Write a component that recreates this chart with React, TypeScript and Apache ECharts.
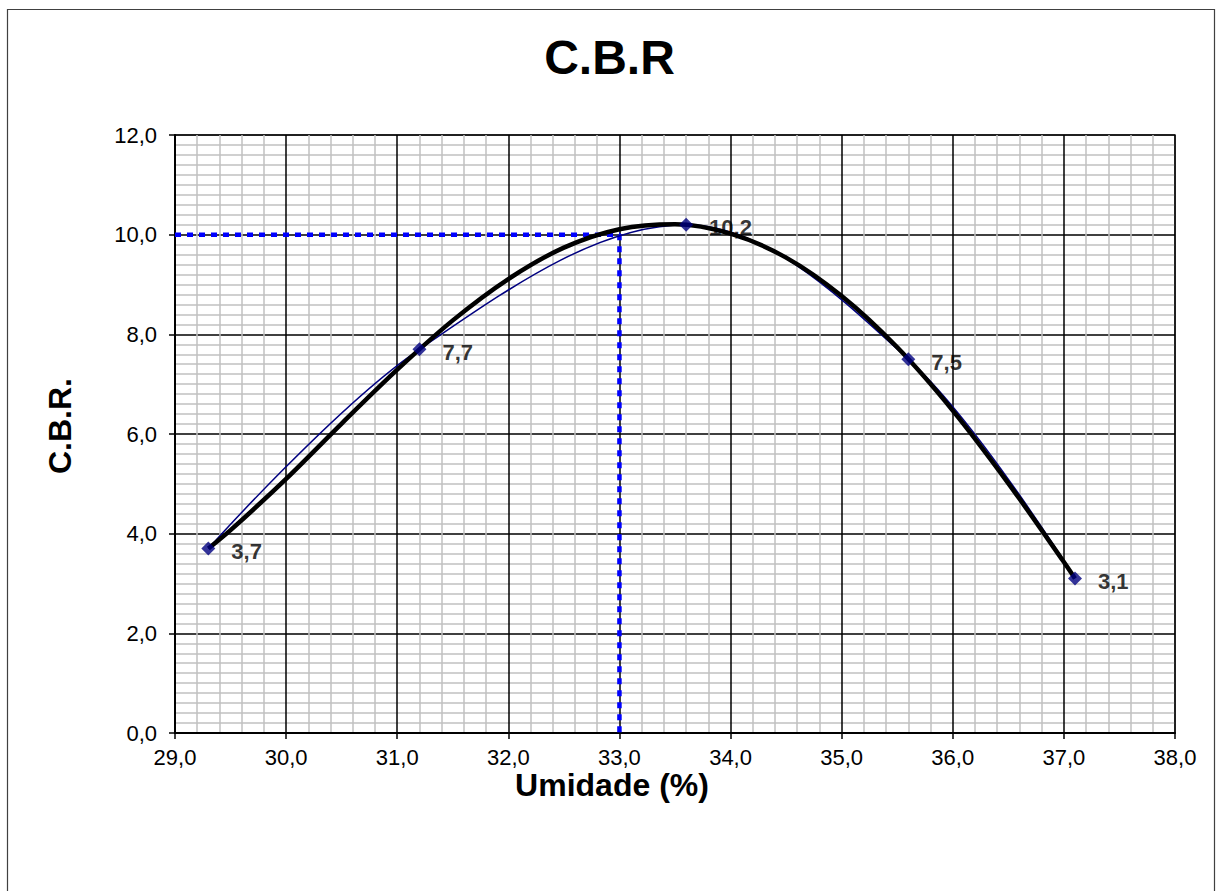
import React, { useEffect, useRef } from "react";
import * as echarts from "echarts";

const umidade = [29.3, 31.2, 33.6, 35.6, 37.1];
const cbr = [3.7, 7.7, 10.2, 7.5, 3.1];

// black trend curve
const trendX = [29.3, 29.5, 30, 30.5, 31, 31.5, 32, 32.5, 33, 33.5, 34, 34.5, 35, 35.5, 36, 36.5, 37, 37.1];
const trendY = [3.7, 4.07, 5.1, 6.21, 7.29, 8.28, 9.11, 9.74, 10.11, 10.21, 10.02, 9.54, 8.77, 7.74, 6.47, 5.01, 3.43, 3.1];

// blue dotted guide lines
const guideX = [29.0, 33.0, 33.0];
const guideY = [10.0, 10.0, 0.0];

const fmt = (v: number) => v.toFixed(1).replace(".", ",");

export default function App() {
  const ref = useRef<HTMLDivElement>(null);
  useEffect(() => {
    if (!ref.current) return;
    const chart = echarts.init(ref.current, undefined, { renderer: "svg" });
    const font = "Arial, 'Liberation Sans', sans-serif";
    chart.setOption({
      animation: false,
      backgroundColor: "#ffffff",
      textStyle: { fontFamily: font },
      title: {
        text: "C.B.R",
        left: "center",
        top: 28,
        textStyle: { fontSize: 48, fontWeight: "bold", color: "#000", fontFamily: font },
      },
      graphic: [
        {
          type: "rect",
          shape: { x: 7.5, y: 9.5, width: 1207, height: 900 },
          style: { fill: "none", stroke: "#404040", lineWidth: 1.2 },
          silent: true,
        },
        {
          type: "text",
          x: 612,
          y: 785,
          style: {
            text: "Umidade (%)",
            fontSize: 32,
            fontWeight: "bold",
            fontFamily: font,
            fill: "#000",
            align: "center",
            verticalAlign: "middle",
          },
          silent: true,
        },
        {
          type: "text",
          x: 60,
          y: 426,
          rotation: Math.PI / 2,
          style: {
            text: "C.B.R.",
            fontSize: 32,
            fontWeight: "bold",
            fontFamily: font,
            fill: "#000",
            align: "center",
            verticalAlign: "middle",
          },
          silent: true,
        },
      ],
      grid: {
        left: 175,
        right: 44,
        top: 135,
        bottom: 158,
        show: true,
        borderColor: "#808080",
        borderWidth: 2,
        backgroundColor: "transparent",
      },
      xAxis: {
        type: "value",
        min: 29,
        max: 38,
        interval: 1,
        axisLine: { show: true, onZero: false, lineStyle: { color: "#000", width: 2 } },
        axisTick: { show: true, length: 6, inside: false, lineStyle: { color: "#000", width: 1.5 } },
        axisLabel: { formatter: fmt, fontSize: 22, color: "#000", margin: 13, fontFamily: font },
        splitLine: { show: true, lineStyle: { color: "#000", width: 1.5 } },
        minorTick: { show: false, splitNumber: 5 },
        minorSplitLine: { show: true, lineStyle: { color: "#c0c0c0", width: 1.5 } },
      },
      yAxis: {
        type: "value",
        min: 0,
        max: 12,
        interval: 2,
        axisLine: { show: true, onZero: false, lineStyle: { color: "#000", width: 2 } },
        axisTick: { show: true, length: 6, inside: false, lineStyle: { color: "#000", width: 1.5 } },
        axisLabel: { formatter: fmt, fontSize: 22, color: "#000", margin: 18, fontFamily: font },
        splitLine: { show: true, lineStyle: { color: "#000", width: 1.5 } },
        minorTick: { show: false, splitNumber: 10 },
        minorSplitLine: { show: true, lineStyle: { color: "#c0c0c0", width: 1.5 } },
      },
      series: [
        {
          type: "line",
          name: "guide",
          data: guideX.map((x, i) => [x, guideY[i]]),
          symbol: "none",
          lineStyle: { color: "#0000ff", width: 4.5, type: [6, 6] },
          z: 3,
          silent: true,
        },
        {
          type: "line",
          name: "CBR",
          data: umidade.map((x, i) => [x, cbr[i]]),
          smooth: 0.35,
          symbol: "none",
          lineStyle: { color: "#000080", width: 1.5 },
          z: 4,
          silent: true,
        },
        {
          type: "line",
          name: "trend",
          data: trendX.map((x, i) => [x, trendY[i]]),
          smooth: 0.3,
          symbol: "none",
          lineStyle: { color: "#000000", width: 4.5 },
          z: 5,
          silent: true,
        },
        {
          type: "scatter",
          name: "points",
          data: umidade.map((x, i) => [x, cbr[i]]),
          symbol: "diamond",
          symbolSize: 14,
          itemStyle: { color: "#000080" },
          z: 6,
          label: {
            show: true,
            position: "right",
            distance: 16,
            formatter: (p: any) => fmt(p.value[1]),
            fontSize: 22,
            fontWeight: "bold",
            color: "#000",
            fontFamily: font,
            offset: [0, 3],
          },
          silent: true,
        },
      ],
    });
    return () => chart.dispose();
  }, []);
  return (
    <div
      ref={ref}
      style={{ position: "absolute", left: 0, top: 0, width: 1219, height: 891 }}
    />
  );
}
